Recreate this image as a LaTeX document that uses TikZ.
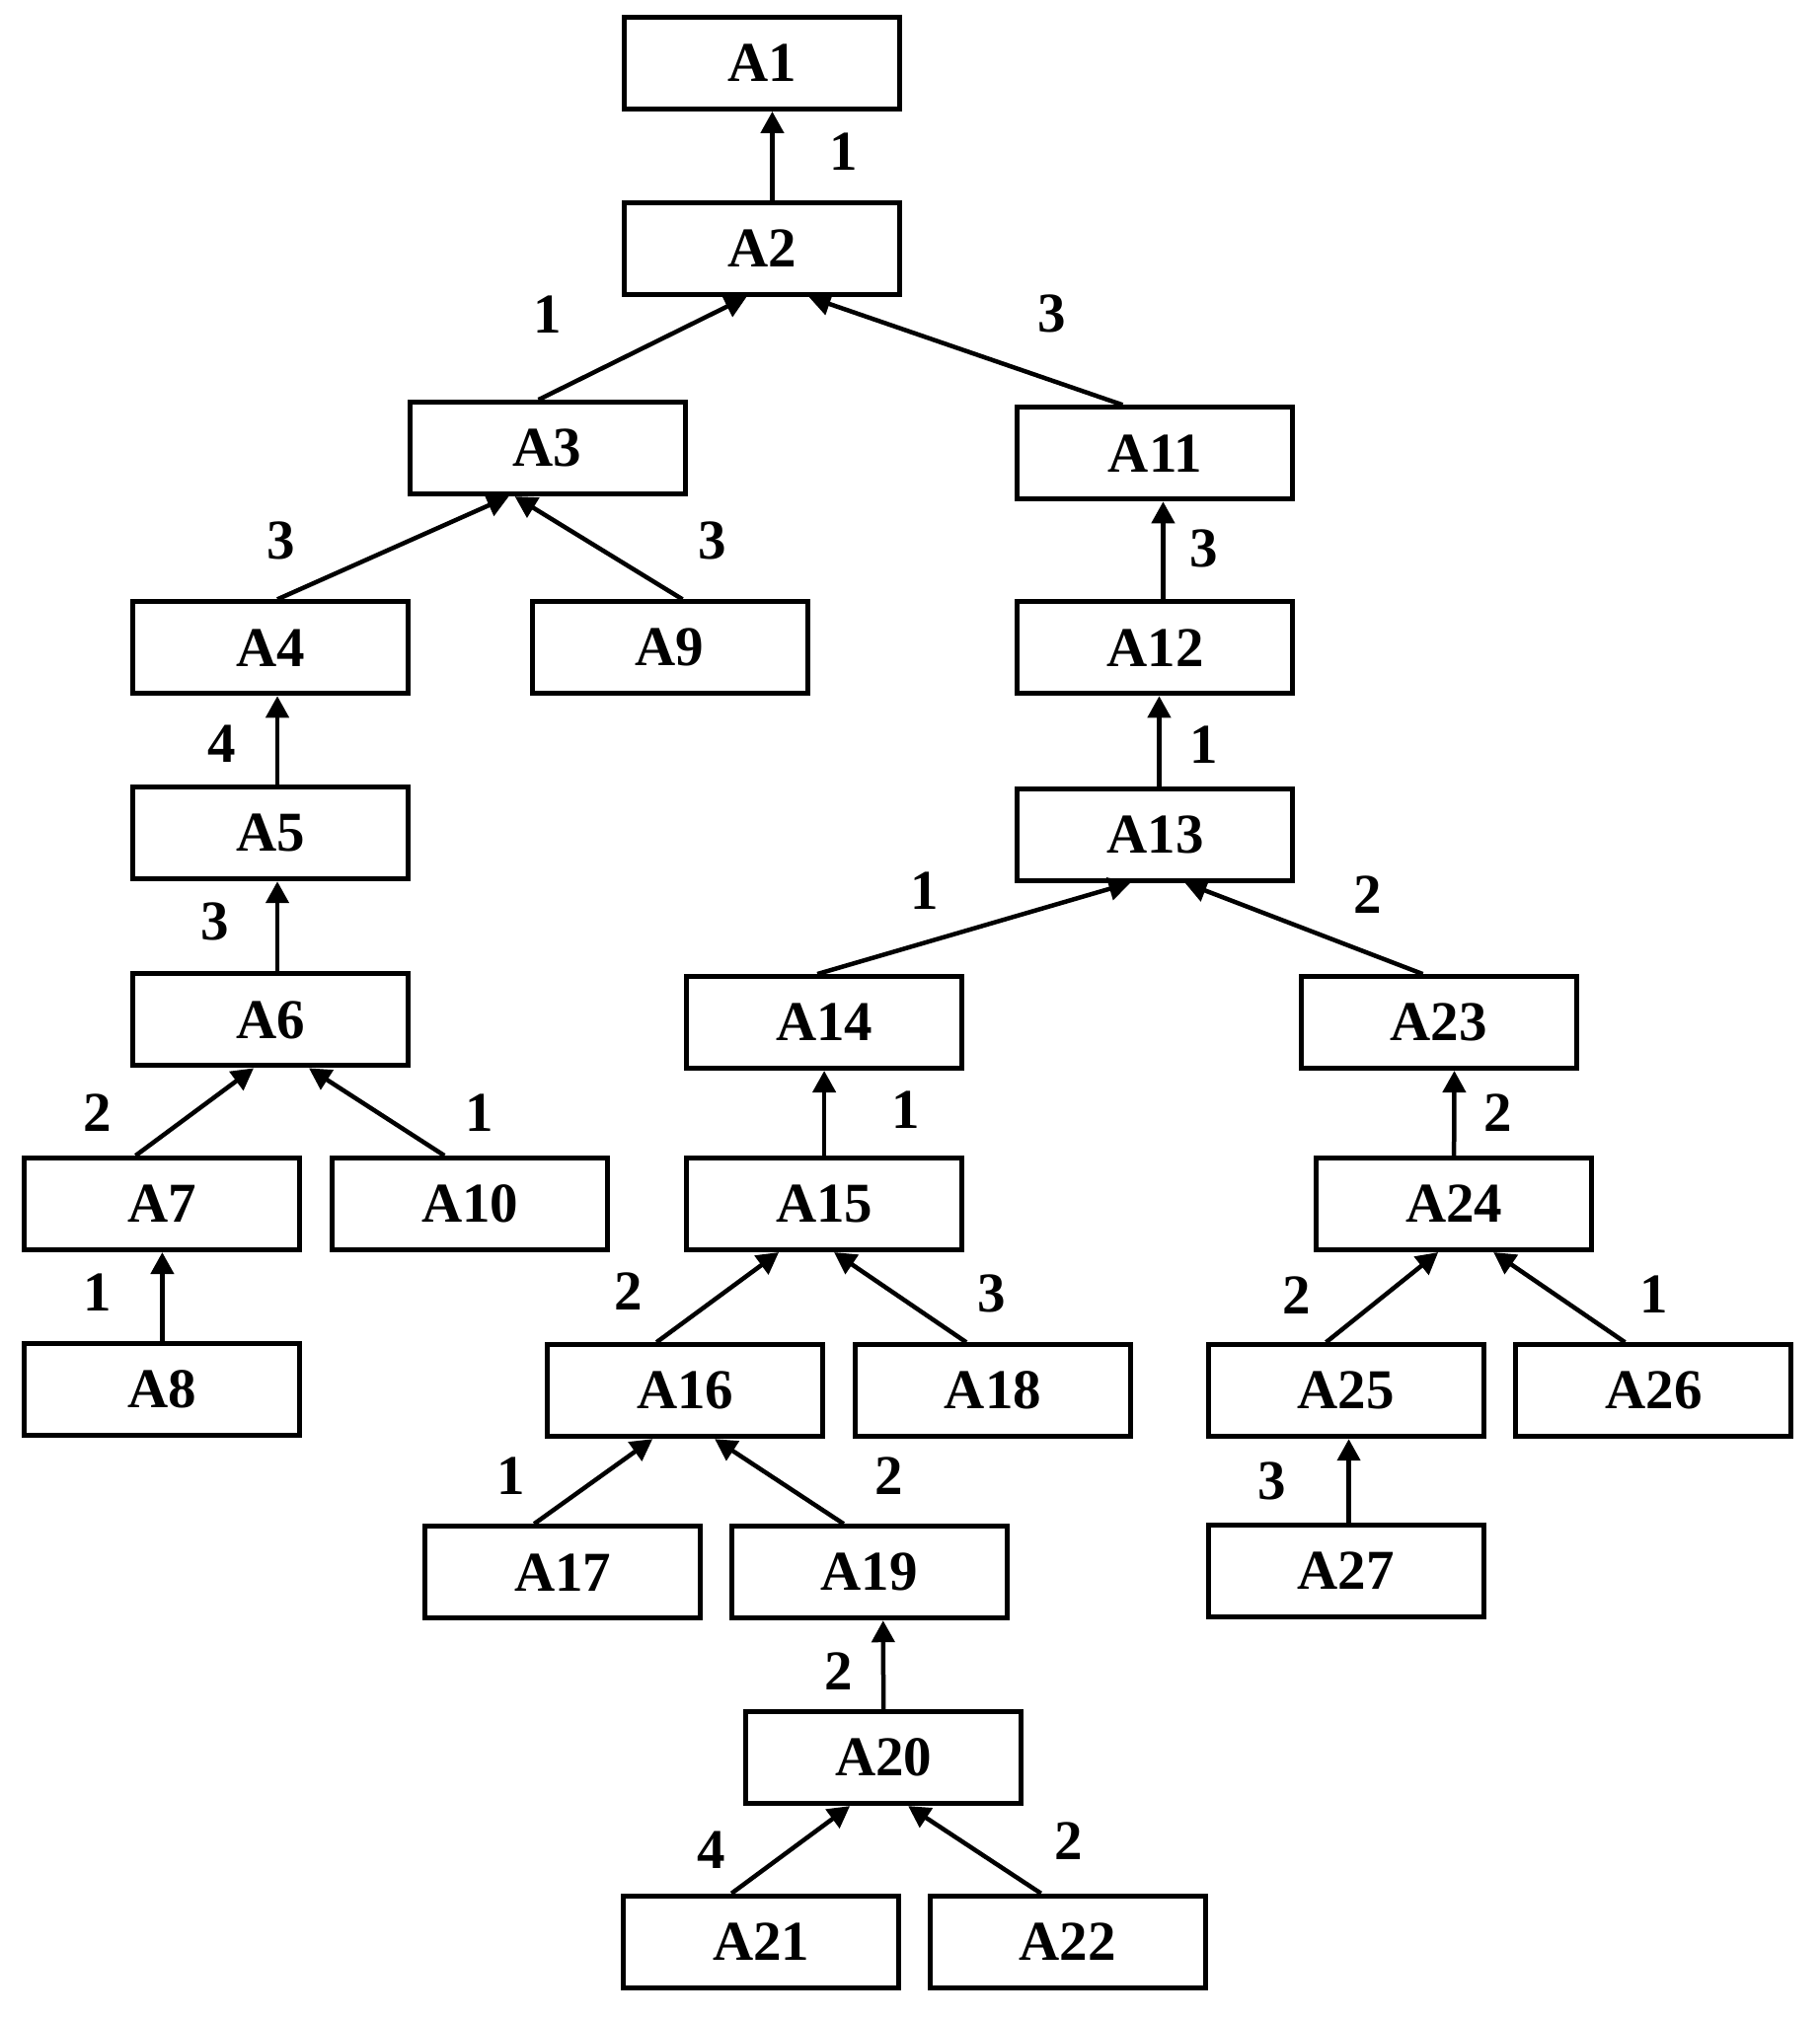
\documentclass[tikz,border=0pt]{standalone}
\usepackage{fontspec}
\setmainfont{Liberation Serif}
\usetikzlibrary{arrows.meta}
\begin{document}
\begin{tikzpicture}[x=1.305pt,y=-1.305pt,
  box/.style={draw,line width=5pt,minimum width=279pt,minimum height=93pt,inner sep=0pt,
    font=\fontsize{57}{60}\selectfont\bfseries},
  lab/.style={font=\fontsize{57}{60}\selectfont\bfseries,inner sep=0pt},
  arr/.style={line width=4.5pt,-{Triangle[length=22pt,width=23pt]}}]
\path[use as bounding box] (0,0) rectangle (1413,1568);
\node[box] (A1) at (592,49) {A1};
\node[box] (A2) at (592,193) {A2};
\node[box] (A3) at (425,348) {A3};
\node[box] (A11) at (897,352) {A11};
\node[box] (A4) at (210,503) {A4};
\node[box] (A9) at (520,503) {A9};
\node[box] (A12) at (897,503) {A12};
\node[box] (A5) at (210,647) {A5};
\node[box] (A13) at (897,648) {A13};
\node[box] (A6) at (210,792) {A6};
\node[box] (A14) at (640,794) {A14};
\node[box] (A23) at (1117,794) {A23};
\node[box] (A7) at (126,935) {A7};
\node[box] (A10) at (365,935) {A10};
\node[box] (A15) at (640,935) {A15};
\node[box] (A24) at (1129,935) {A24};
\node[box] (A8) at (126,1079) {A8};
\node[box] (A16) at (532,1080) {A16};
\node[box] (A18) at (771,1080) {A18};
\node[box] (A25) at (1045,1080) {A25};
\node[box] (A26) at (1284,1080) {A26};
\node[box] (A17) at (437,1221) {A17};
\node[box] (A19) at (675,1221) {A19};
\node[box] (A27) at (1045,1220) {A27};
\node[box] (A20) at (686,1365) {A20};
\node[box] (A21) at (591,1508) {A21};
\node[box] (A22) at (829,1508) {A22};
% edges
\draw[arr] ([xshift=10pt]A2.north) -- ([xshift=10pt]A1.south);
\draw[arr] ([xshift=-9pt]A3.north) -- ([xshift=-16pt]A2.south);
\draw[arr] ([xshift=-33pt]A11.north) -- ([xshift=47pt]A2.south);
\draw[arr] ([xshift=7pt]A4.north) -- ([xshift=-39pt]A3.south);
\draw[arr] ([xshift=13pt]A9.north) -- ([xshift=-33pt]A3.south);
\draw[arr] ([xshift=8pt]A12.north) -- ([xshift=8pt]A11.south);
\draw[arr] ([xshift=7pt]A5.north) -- ([xshift=7pt]A4.south);
\draw[arr] ([xshift=4pt]A13.north) -- ([xshift=4pt]A12.south);
\draw[arr] ([xshift=7pt]A6.north) -- ([xshift=7pt]A5.south);
\draw[arr] ([xshift=-7pt]A14.north) -- ([xshift=-25pt]A13.south);
\draw[arr] ([xshift=-16pt]A23.north) -- ([xshift=30pt]A13.south);
\draw[arr] ([xshift=-27pt]A7.north) -- ([xshift=-17pt]A6.south);
\draw[arr] ([xshift=-26pt]A10.north) -- ([xshift=39pt]A6.south);
\draw[arr] (A15.north) -- (A14.south);
\draw[arr] (A24.north) -- ([xshift=16pt]A23.south);
\draw[arr] (A8.north) -- (A7.south);
\draw[arr] ([xshift=-29pt]A16.north) -- ([xshift=-46pt]A15.south);
\draw[arr] ([xshift=-27pt]A18.north) -- ([xshift=10pt]A15.south);
\draw[arr] ([xshift=-20pt]A25.north) -- ([xshift=-16pt]A24.south);
\draw[arr] ([xshift=-29pt]A26.north) -- ([xshift=40pt]A24.south);
\draw[arr] ([xshift=-29pt]A17.north) -- ([xshift=-33pt]A16.south);
\draw[arr] ([xshift=-26pt]A19.north) -- ([xshift=30pt]A16.south);
\draw[arr] ([xshift=3pt]A27.north) -- ([xshift=3pt]A25.south);
\draw[arr] (A20.north) -- ([xshift=14pt]A19.south);
\draw[arr] ([xshift=-30pt]A21.north) -- ([xshift=-34pt]A20.south);
\draw[arr] ([xshift=-27pt]A22.north) -- ([xshift=25pt]A20.south);
% labels
\node[lab] (l1) at (655,118) {1};
\node[lab] (l2) at (425,244) {1};
\node[lab] (l3) at (817,244) {3};
\node[lab] (l4) at (218,420) {3};
\node[lab] (l5) at (553,420) {3};
\node[lab] (l6) at (935,426) {3};
\node[lab] (l7) at (172,578) {4};
\node[lab] (l8) at (935,578) {1};
\node[lab] (l9) at (167,716) {3};
\node[lab] (l10) at (718,692) {1};
\node[lab] (l11) at (1062,695) {2};
\node[lab] (l12) at (76,864) {2};
\node[lab] (l13) at (372,864) {1};
\node[lab] (l14) at (703,862) {1};
\node[lab] (l15) at (1163,864) {2};
\node[lab] (l16) at (76,1004) {1};
\node[lab] (l17) at (488,1003) {2};
\node[lab] (l18) at (770,1005) {3};
\node[lab] (l19) at (1007,1006) {2};
\node[lab] (l20) at (1284,1005) {1};
\node[lab] (l21) at (397,1146) {1};
\node[lab] (l22) at (690,1146) {2};
\node[lab] (l23) at (988,1150) {3};
\node[lab] (l24) at (651,1298) {2};
\node[lab] (l25) at (552,1437) {4};
\node[lab] (l26) at (830,1430) {2};
\end{tikzpicture}
\end{document}
